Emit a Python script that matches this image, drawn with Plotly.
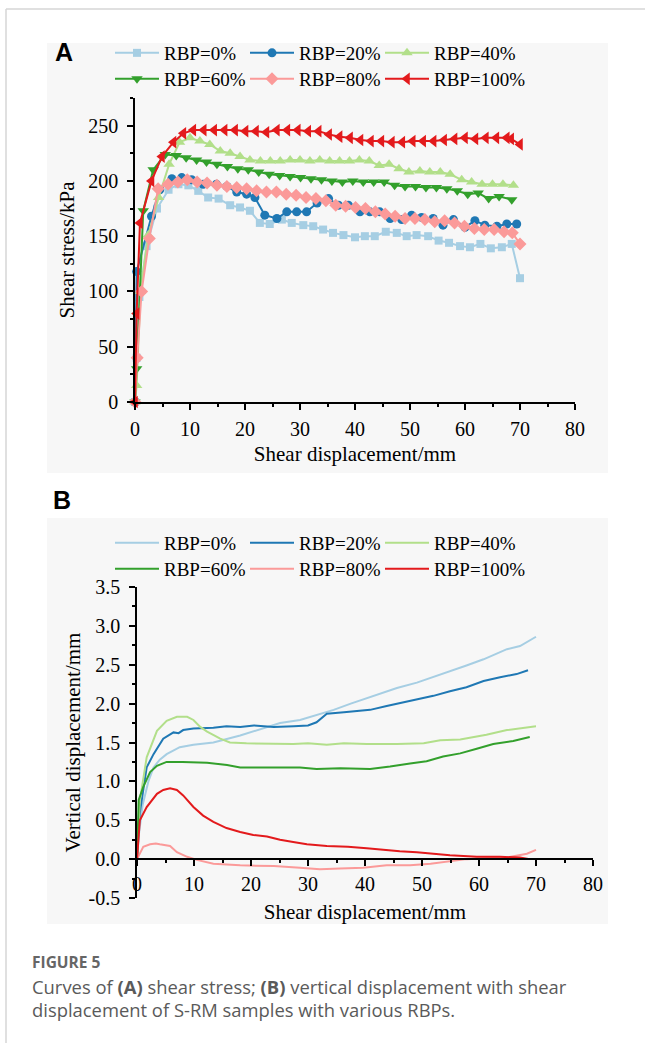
import plotly.graph_objects as go

# ---------------- data ----------------
names = ["RBP=0%", "RBP=20%", "RBP=40%", "RBP=60%", "RBP=80%", "RBP=100%"]
colors = ["#a6cee3", "#1f78b4", "#b2df8a", "#33a02c", "#fb9a99", "#e31a1c"]
symbols = ["square", "circle", "triangle-up", "triangle-down", "diamond", "triangle-left"]

# Panel A: shear stress (kPa) vs shear displacement (mm)
a_x0 = [0, 0.3, 0.8, 2.1, 4.0, 6.1, 7.9, 9.7, 11.5, 13.3, 15.2, 17.3, 19.1, 20.9, 22.7, 24.5, 26.7, 28.5, 30.6, 32.4,
        34.2, 36.0, 37.9, 40.0, 41.8, 43.6, 45.6, 47.6, 49.4, 51.2, 53.3, 55.2, 57.1, 59.1, 60.9, 62.8, 64.7, 66.7, 68.5, 70.0]
a_y0 = [0, 40, 95, 141, 175, 192, 197, 196, 191, 185, 184, 178, 176, 173, 162, 161, 165, 162, 160, 159,
        156, 153, 151, 149, 150, 150, 154, 153, 150, 151, 150, 146, 144, 141, 140, 143, 139, 140, 143, 112]

a_x20 = [0, 0.3, 3.0, 4.5, 6.7, 8.5, 10.3, 12.4, 14.8, 16.7, 18.5, 20.3, 21.8, 23.6, 25.8, 27.6, 29.4, 31.2, 33.1, 35.2,
         37.0, 38.8, 40.9, 42.7, 44.5, 46.4, 48.5, 50.3, 52.1, 54.2, 56.0, 57.9, 60.0, 61.8, 63.6, 65.8, 67.6, 69.4]
a_y20 = [0, 118, 168, 192, 202, 203, 201, 197, 197, 195, 190, 188, 185, 169, 166, 172, 172, 172, 180, 184,
         178, 178, 172, 172, 172, 166, 165, 169, 167, 166, 160, 165, 158, 164, 160, 159, 161, 161]

a_x40 = [0, 0.3, 1.0, 2.4, 4.3, 6.2, 8.1, 10.0, 11.8, 13.6, 15.5, 17.3, 19.1, 20.9, 22.8, 24.6, 26.4, 28.2, 30.0, 31.8,
         33.6, 35.4, 37.2, 39.0, 40.8, 42.6, 44.4, 46.2, 48.0, 49.8, 51.8, 53.6, 55.5, 57.3, 59.4, 61.2, 63.1, 65.0, 66.9, 68.8]
a_y40 = [0, 15, 100, 151, 185, 215, 235, 239, 236, 233, 227, 225, 222, 219, 218, 218, 218, 219, 219, 218,
         219, 218, 218, 218, 219, 218, 214, 215, 211, 208, 209, 208, 208, 206, 201, 199, 197, 197, 197, 196]

a_x60 = [0, 0.3, 1.5, 3.3, 5.5, 7.5, 9.3, 11.2, 13.0, 14.9, 16.8, 18.7, 20.6, 22.5, 24.4, 26.3, 28.2, 30.1, 32.0,
         33.9, 35.8, 37.7, 39.6, 41.5, 43.4, 45.3, 47.2, 49.1, 51.0, 52.9, 54.8, 56.7, 58.6, 60.5, 62.4, 64.3, 66.2, 68.5]
a_y60 = [0, 30, 173, 210, 224, 223, 221, 219, 217, 215, 213, 211, 210, 208, 206, 205, 204, 203, 202,
         201, 200, 199, 200, 199, 199, 199, 196, 195, 195, 194, 194, 193, 191, 188, 189, 184, 186, 183]

a_x80 = [0, 0.4, 1.2, 2.6, 4.2, 6.0, 7.8, 9.5, 11.3, 13.1, 14.9, 16.7, 18.5, 20.3, 22.1, 23.9, 25.7, 27.5, 29.3, 31.1,
         32.9, 34.7, 36.5, 38.3, 40.1, 41.9, 43.7, 45.5, 47.3, 49.1, 50.9, 52.7, 54.5, 56.3, 58.1, 59.9, 61.7, 63.5,
         65.3, 67.1, 68.6, 70.0]
a_y80 = [0, 40, 100, 148, 193, 197, 199, 201, 199, 198, 196, 195, 194, 193, 191, 190, 190, 188, 187, 185,
         184, 182, 178, 177, 176, 175, 172, 170, 168, 166, 166, 165, 163, 164, 162, 159, 157, 156,
         156, 154, 153, 143]

a_x100 = [0, 0.3, 0.9, 3.0, 4.9, 7.0, 8.8, 10.6, 12.5, 14.4, 16.3, 18.2, 20.1, 22.0, 23.9, 25.8, 27.7, 29.6, 31.5, 33.4,
          35.3, 37.2, 39.1, 41.0, 42.9, 44.8, 46.7, 48.6, 50.5, 52.4, 54.3, 56.2, 58.1, 60.0, 61.9, 63.8, 65.7, 67.6,
          68.4, 70.0]
a_y100 = [0, 80, 162, 200, 222, 235, 243, 246, 246, 246, 246, 246, 245, 245, 244, 246, 246, 246, 245, 245,
          242, 240, 239, 237, 236, 236, 235, 235, 236, 236, 236, 237, 238, 239, 238, 239, 239, 239,
          238, 233]

# Panel B: vertical displacement (mm) vs shear displacement (mm)
b_x0 = [0, 0.3, 1.0, 2.0, 2.9, 4.0, 5.2, 7.5, 9.9, 13.4, 18.1, 22.8, 25.1, 28.6, 31.5, 34.5, 37.5, 40.3, 43.2, 45.6,
        49.1, 52.0, 54.3, 57.8, 60.8, 64.9, 67.2, 70.0]
b_y0 = [0, 0.30, 0.70, 1.00, 1.18, 1.28, 1.35, 1.44, 1.47, 1.50, 1.59, 1.70, 1.75, 1.79, 1.85, 1.92, 2.00, 2.07, 2.14, 2.20,
        2.27, 2.34, 2.40, 2.49, 2.57, 2.70, 2.74, 2.86]

b_x20 = [0, 0.5, 1.7, 2.9, 4.6, 6.4, 7.3, 8.1, 9.9, 13.4, 15.7, 18.1, 20.5, 24.0, 27.5, 30.0, 31.5, 33.3, 36.3, 40.9,
         43.8, 48.5, 52.0, 54.9, 57.8, 60.8, 63.7, 66.6, 68.6]
b_y20 = [0, 0.60, 1.18, 1.35, 1.55, 1.63, 1.62, 1.66, 1.68, 1.69, 1.71, 1.70, 1.72, 1.70, 1.71, 1.72, 1.76, 1.87, 1.89, 1.92,
         1.97, 2.05, 2.10, 2.16, 2.21, 2.29, 2.34, 2.38, 2.43]

b_x40 = [0, 0.5, 1.7, 3.5, 5.2, 7.0, 8.8, 9.9, 11.1, 12.3, 14.6, 16.3, 19.2, 23.9, 27.4, 30.0, 33.3, 36.3, 40.3, 45.6,
         50.3, 53.2, 56.7, 61.3, 64.9, 70.0]
b_y40 = [0, 0.75, 1.31, 1.65, 1.78, 1.83, 1.83, 1.79, 1.70, 1.64, 1.55, 1.50, 1.49, 1.48, 1.48, 1.49, 1.47, 1.49, 1.48, 1.48,
         1.49, 1.53, 1.54, 1.60, 1.66, 1.71]

b_x60 = [0, 0.3, 1.1, 2.3, 3.5, 5.2, 8.0, 12.3, 15.8, 18.1, 23.0, 28.6, 31.5, 35.7, 40.9, 44.4, 47.9, 50.8, 53.7, 56.7,
         59.6, 62.5, 66.0, 68.9]
b_y60 = [0, 0.76, 0.93, 1.12, 1.20, 1.25, 1.25, 1.24, 1.21, 1.18, 1.18, 1.18, 1.16, 1.17, 1.16, 1.19, 1.23, 1.26, 1.32, 1.36,
         1.42, 1.48, 1.52, 1.57]

b_x80 = [0, 1.1, 2.3, 3.3, 4.0, 5.8, 7.0, 8.8, 10.5, 13.4, 18.1, 24.0, 28.6, 32.1, 35.6, 39.7, 43.8, 47.9, 51.5, 54.4,
         57.8, 61.3, 64.9, 67.0, 68.4, 70.0]
b_y80 = [0, 0.16, 0.19, 0.20, 0.19, 0.17, 0.09, 0.03, -0.01, -0.06, -0.08, -0.09, -0.11, -0.13, -0.12, -0.11, -0.08, -0.08, -0.06, -0.03,
         0.0, 0.01, 0.02, 0.05, 0.07, 0.12]

b_x100 = [0, 0.5, 1.7, 3.5, 4.6, 5.8, 7.0, 8.1, 9.9, 11.6, 13.4, 15.7, 18.1, 20.4, 22.8, 25.1, 27.4, 29.8, 33.3, 37.0,
          40.3, 46.1, 49.1, 54.9, 59.6, 63.7, 67.2, 68.9]
b_y100 = [0, 0.50, 0.67, 0.84, 0.89, 0.91, 0.89, 0.82, 0.67, 0.56, 0.48, 0.40, 0.35, 0.31, 0.29, 0.25, 0.22, 0.19, 0.17, 0.16,
          0.14, 0.10, 0.09, 0.05, 0.03, 0.03, 0.02, 0.0]

a_ticks = [0, 50, 100, 150, 200, 250]
b_ticks = [-0.5, 0.0, 0.5, 1.0, 1.5, 2.0, 2.5, 3.0, 3.5]
b_ticklabels = ["-0.5", "0.0", "0.5", "1.0", "1.5", "2.0", "2.5", "3.0", "3.5"]
x_ticks = [0, 10, 20, 30, 40, 50, 60, 70, 80]

caption_title = "FIGURE 5"
caption_l1 = "Curves of <b>(A)</b> shear stress; <b>(B)</b> vertical displacement with shear"
caption_l2 = "displacement of S-RM samples with various RBPs."

# ---------------- layout helpers ----------------
W, H = 645, 1043
def fx(p):
    return p / W
def fy(p):
    return 1 - p / H

SERIF = "Liberation Serif"
SANS = "Open Sans"

a_series = [(a_x0, a_y0), (a_x20, a_y20), (a_x40, a_y40), (a_x60, a_y60), (a_x80, a_y80), (a_x100, a_y100)]
b_series = [(b_x0, b_y0), (b_x20, b_y20), (b_x40, b_y40), (b_x60, b_y60), (b_x80, b_y80), (b_x100, b_y100)]
msize = [8, 9, 10, 10, 10, 11]
legw = [76, 76, 110, 76, 76, 110]

fig = go.Figure()
for i, (xs, ys) in enumerate(a_series):
    fig.add_trace(go.Scatter(
        x=xs, y=ys, name=names[i], mode="lines+markers",
        line=dict(color=colors[i], width=2),
        marker=dict(symbol=symbols[i], size=msize[i], color=colors[i]),
        xaxis="x", yaxis="y", cliponaxis=False,
        legend="legend" if i < 3 else "legend2", legendwidth=legw[i],
    ))
for i, (xs, ys) in enumerate(b_series):
    fig.add_trace(go.Scatter(
        x=xs, y=ys, name=names[i], mode="lines",
        line=dict(color=colors[i], width=2),
        xaxis="x2", yaxis="y2", cliponaxis=False,
        legend="legend3" if i < 3 else "legend4", legendwidth=legw[i],
    ))

tickfont = dict(family=SERIF, size=20, color="black")
titlefont = dict(family=SERIF, size=21, color="black")
common = dict(showline=True, linecolor="black", linewidth=1.5, ticks="outside", ticklen=6,
              tickwidth=1.5, tickcolor="black", showgrid=False, zeroline=False, tickfont=tickfont,
              automargin=False)

leg_common = dict(orientation="h", xanchor="left", yanchor="middle", font=dict(family=SERIF, size=19, color="black"),
                  bgcolor="rgba(0,0,0,0)", entrywidthmode="pixels", itemwidth=44,
                  tracegroupgap=0, borderwidth=0)

fig.update_layout(
    width=W, height=H, margin=dict(l=0, r=0, t=0, b=0, pad=0, autoexpand=False),
    paper_bgcolor="white", plot_bgcolor="rgba(0,0,0,0)",
    showlegend=True,
    xaxis=dict(domain=[fx(135), fx(575)], range=[0, 80], tickvals=x_ticks, anchor="y",
               minor=dict(dtick=5, ticks="outside", ticklen=3.5, tickwidth=1.5, tickcolor="black"),
               title=dict(text="Shear displacement/mm", font=titlefont, standoff=8),
               ticklabelstandoff=2, **common),
    yaxis=dict(domain=[fy(402), fy(98)], range=[0, 275], tickvals=a_ticks, anchor="x",
               minor=dict(dtick=25, ticks="outside", ticklen=3.5, tickwidth=1.5, tickcolor="black"),
               title=dict(text="Shear stress/kPa", font=titlefont, standoff=8),
               ticklabelstandoff=5, **common),
    xaxis2=dict(domain=[fx(137), fx(593)], range=[0, 80], tickvals=x_ticks, anchor="free", position=fy(859),
                minor=dict(dtick=5, ticks="outside", ticklen=3.5, tickwidth=1.5, tickcolor="black"),
                title=dict(text="Shear displacement/mm", font=titlefont, standoff=10),
                ticklabelstandoff=1, **common),
    yaxis2=dict(domain=[fy(898), fy(587)], range=[-0.5, 3.5], tickvals=b_ticks, ticktext=b_ticklabels, anchor="x2",
                minor=dict(dtick=0.25, ticks="outside", ticklen=3.5, tickwidth=1.5, tickcolor="black"),
                title=dict(text="Vertical displacement/mm", font=titlefont, standoff=2),
                ticklabelstandoff=5, **common),
    legend=dict(x=fx(110), y=fy(53), **leg_common),
    legend2=dict(x=fx(110), y=fy(79), **leg_common),
    legend3=dict(x=fx(110), y=fy(543), **leg_common),
    legend4=dict(x=fx(110), y=fy(569), **leg_common),
    shapes=[
        dict(type="rect", xref="paper", yref="paper", x0=fx(47), x1=fx(608), y0=fy(473), y1=fy(43),
             fillcolor="#f7f7f7", line=dict(width=0), layer="below"),
        dict(type="rect", xref="paper", yref="paper", x0=fx(47), x1=fx(608), y0=fy(924), y1=fy(518),
             fillcolor="#f7f7f7", line=dict(width=0), layer="below"),
        dict(type="line", xref="paper", yref="paper", x0=fx(6), x1=fx(6), y0=0, y1=fy(9),
             line=dict(color="#d6d6d6", width=1.5)),
        dict(type="line", xref="paper", yref="paper", x0=fx(6), x1=1, y0=fy(9), y1=fy(9),
             line=dict(color="#d6d6d6", width=1.5)),
    ],
    annotations=[
        dict(text="<b>A</b>", x=fx(53), y=fy(52), xref="paper", yref="paper", xanchor="left", yanchor="middle",
             showarrow=False, font=dict(family="Liberation Sans", size=25, color="black")),
        dict(text="<b>B</b>", x=fx(51), y=fy(500), xref="paper", yref="paper", xanchor="left", yanchor="middle",
             showarrow=False, font=dict(family="Liberation Sans", size=25, color="black")),
        dict(text="<b>" + caption_title + "</b>", x=fx(30), y=fy(962), xref="paper", yref="paper", xanchor="left",
             yanchor="middle", showarrow=False, font=dict(family=SANS, size=15.5, color="#666666")),
        dict(text=caption_l1, x=fx(30), y=fy(986), xref="paper", yref="paper", xanchor="left",
             yanchor="middle", showarrow=False, font=dict(family=SANS, size=18.4, color="#5a5a5a")),
        dict(text=caption_l2, x=fx(30), y=fy(1009), xref="paper", yref="paper", xanchor="left",
             yanchor="middle", showarrow=False, font=dict(family=SANS, size=18.4, color="#5a5a5a")),
    ],
)

fig.write_html("out.html")
